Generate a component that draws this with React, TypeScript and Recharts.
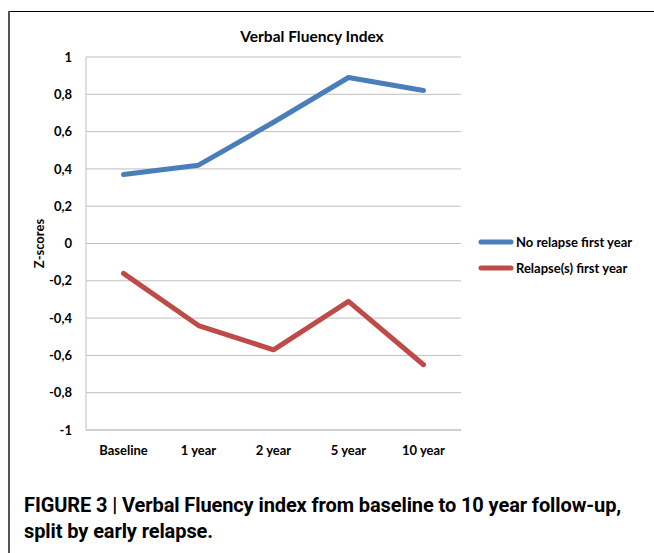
import React from 'react';
import { LineChart, Line, XAxis, YAxis, CartesianGrid, Legend, Label } from 'recharts';

const categories = ['Baseline', '1 year', '2 year', '5 year', '10 year'];
const noRelapse = [0.37, 0.42, 0.65, 0.89, 0.82];
const relapse = [-0.16, -0.44, -0.57, -0.31, -0.65];
const yTicks = [-1, -0.8, -0.6, -0.4, -0.2, 0, 0.2, 0.4, 0.6, 0.8, 1];
const seriesNames = ['No relapse first year', 'Relapse(s) first year'];
const seriesColors = ['#4A7EBB', '#BE4B48'];

const data = categories.map((c, i) => ({ name: c, a: noRelapse[i], b: relapse[i] }));

const FONT = 'Lato, "Open Sans", sans-serif';

const LegendContent = () => (
  <div style={{ fontFamily: FONT, fontWeight: 700, fontSize: 13, color: '#000' }}>
    {seriesNames.map((n, i) => (
      <div key={n} style={{ display: 'flex', alignItems: 'center', height: 26 }}>
        <svg width={36} height={8} style={{ marginRight: 2 }}>
          <line x1={3} y1={4} x2={33} y2={4} stroke={seriesColors[i]} strokeWidth={5} strokeLinecap="round" />
        </svg>
        <span>{n}</span>
      </div>
    ))}
  </div>
);

export default function App() {
  return (
    <div style={{ position: 'fixed', left: 0, top: 0, width: 654, height: 553, background: '#fff', overflow: 'hidden' }}>
      <div style={{ position: 'absolute', left: 8, top: 11, width: 646, height: 1, background: '#000' }} />
      <div style={{ position: 'absolute', left: 8, top: 11, width: 2, height: 542, background: '#555' }} />
      <div style={{ position: 'absolute', left: 0, top: 27, width: 624, textAlign: 'center', fontFamily: FONT, fontWeight: 700, fontSize: 15.5, color: '#000' }}>
        Verbal Fluency Index
      </div>
      <div style={{ position: 'absolute', left: 0, top: 0 }}>
        <LineChart width={654} height={470} data={data} margin={{ top: 57, right: 17, left: 0, bottom: 10 }}>
          <CartesianGrid vertical={false} stroke="#BFBFBF" strokeWidth={1} />
          <XAxis
            dataKey="name"
            axisLine={{ stroke: '#BFBFBF' }}
            tickLine={false}
            tickSize={6}
            tickMargin={10}
            height={30}
            padding={{ left: 37.5, right: 37.5 }}
            tick={{ fill: '#000', fontFamily: FONT, fontWeight: 700, fontSize: 13 }}
            interval={0}
          />
          <YAxis
            domain={[-1, 1]}
            ticks={yTicks}
            width={86}
            axisLine={{ stroke: '#BFBFBF' }}
            tickLine={false}
            tickSize={6}
            tickMargin={8}
            interval={0}
            tickFormatter={(v: number) => String(v).replace('.', ',')}
            tick={{ fill: '#000', fontFamily: FONT, fontWeight: 700, fontSize: 13 }}
          >
            <Label
              value="Z-scores"
              angle={-90}
              position="insideLeft"
              offset={39}
              style={{ textAnchor: 'middle', fontFamily: FONT, fontWeight: 700, fontSize: 13, fill: '#000' }}
            />
          </YAxis>
          <Legend
            layout="vertical"
            align="right"
            verticalAlign="top"
            content={<LegendContent />}
            wrapperStyle={{ left: 478, top: 229, width: 176 }}
          />
          <Line type="linear" dataKey="a" name={seriesNames[0]} stroke={seriesColors[0]} strokeWidth={5} dot={false} strokeLinecap="round" strokeLinejoin="round" isAnimationActive={false} />
          <Line type="linear" dataKey="b" name={seriesNames[1]} stroke={seriesColors[1]} strokeWidth={5} dot={false} strokeLinecap="round" strokeLinejoin="round" isAnimationActive={false} />
        </LineChart>
      </div>
      <div style={{ position: 'absolute', left: 24, top: 492, width: 630, fontFamily: '"Roboto", sans-serif', fontWeight: 700, fontSize: 20, lineHeight: '26px', color: '#000', letterSpacing: -0.1 }}>
        FIGURE 3 | Verbal Fluency index from baseline to 10 year follow-up,<br />split by early relapse.
      </div>
    </div>
  );
}
